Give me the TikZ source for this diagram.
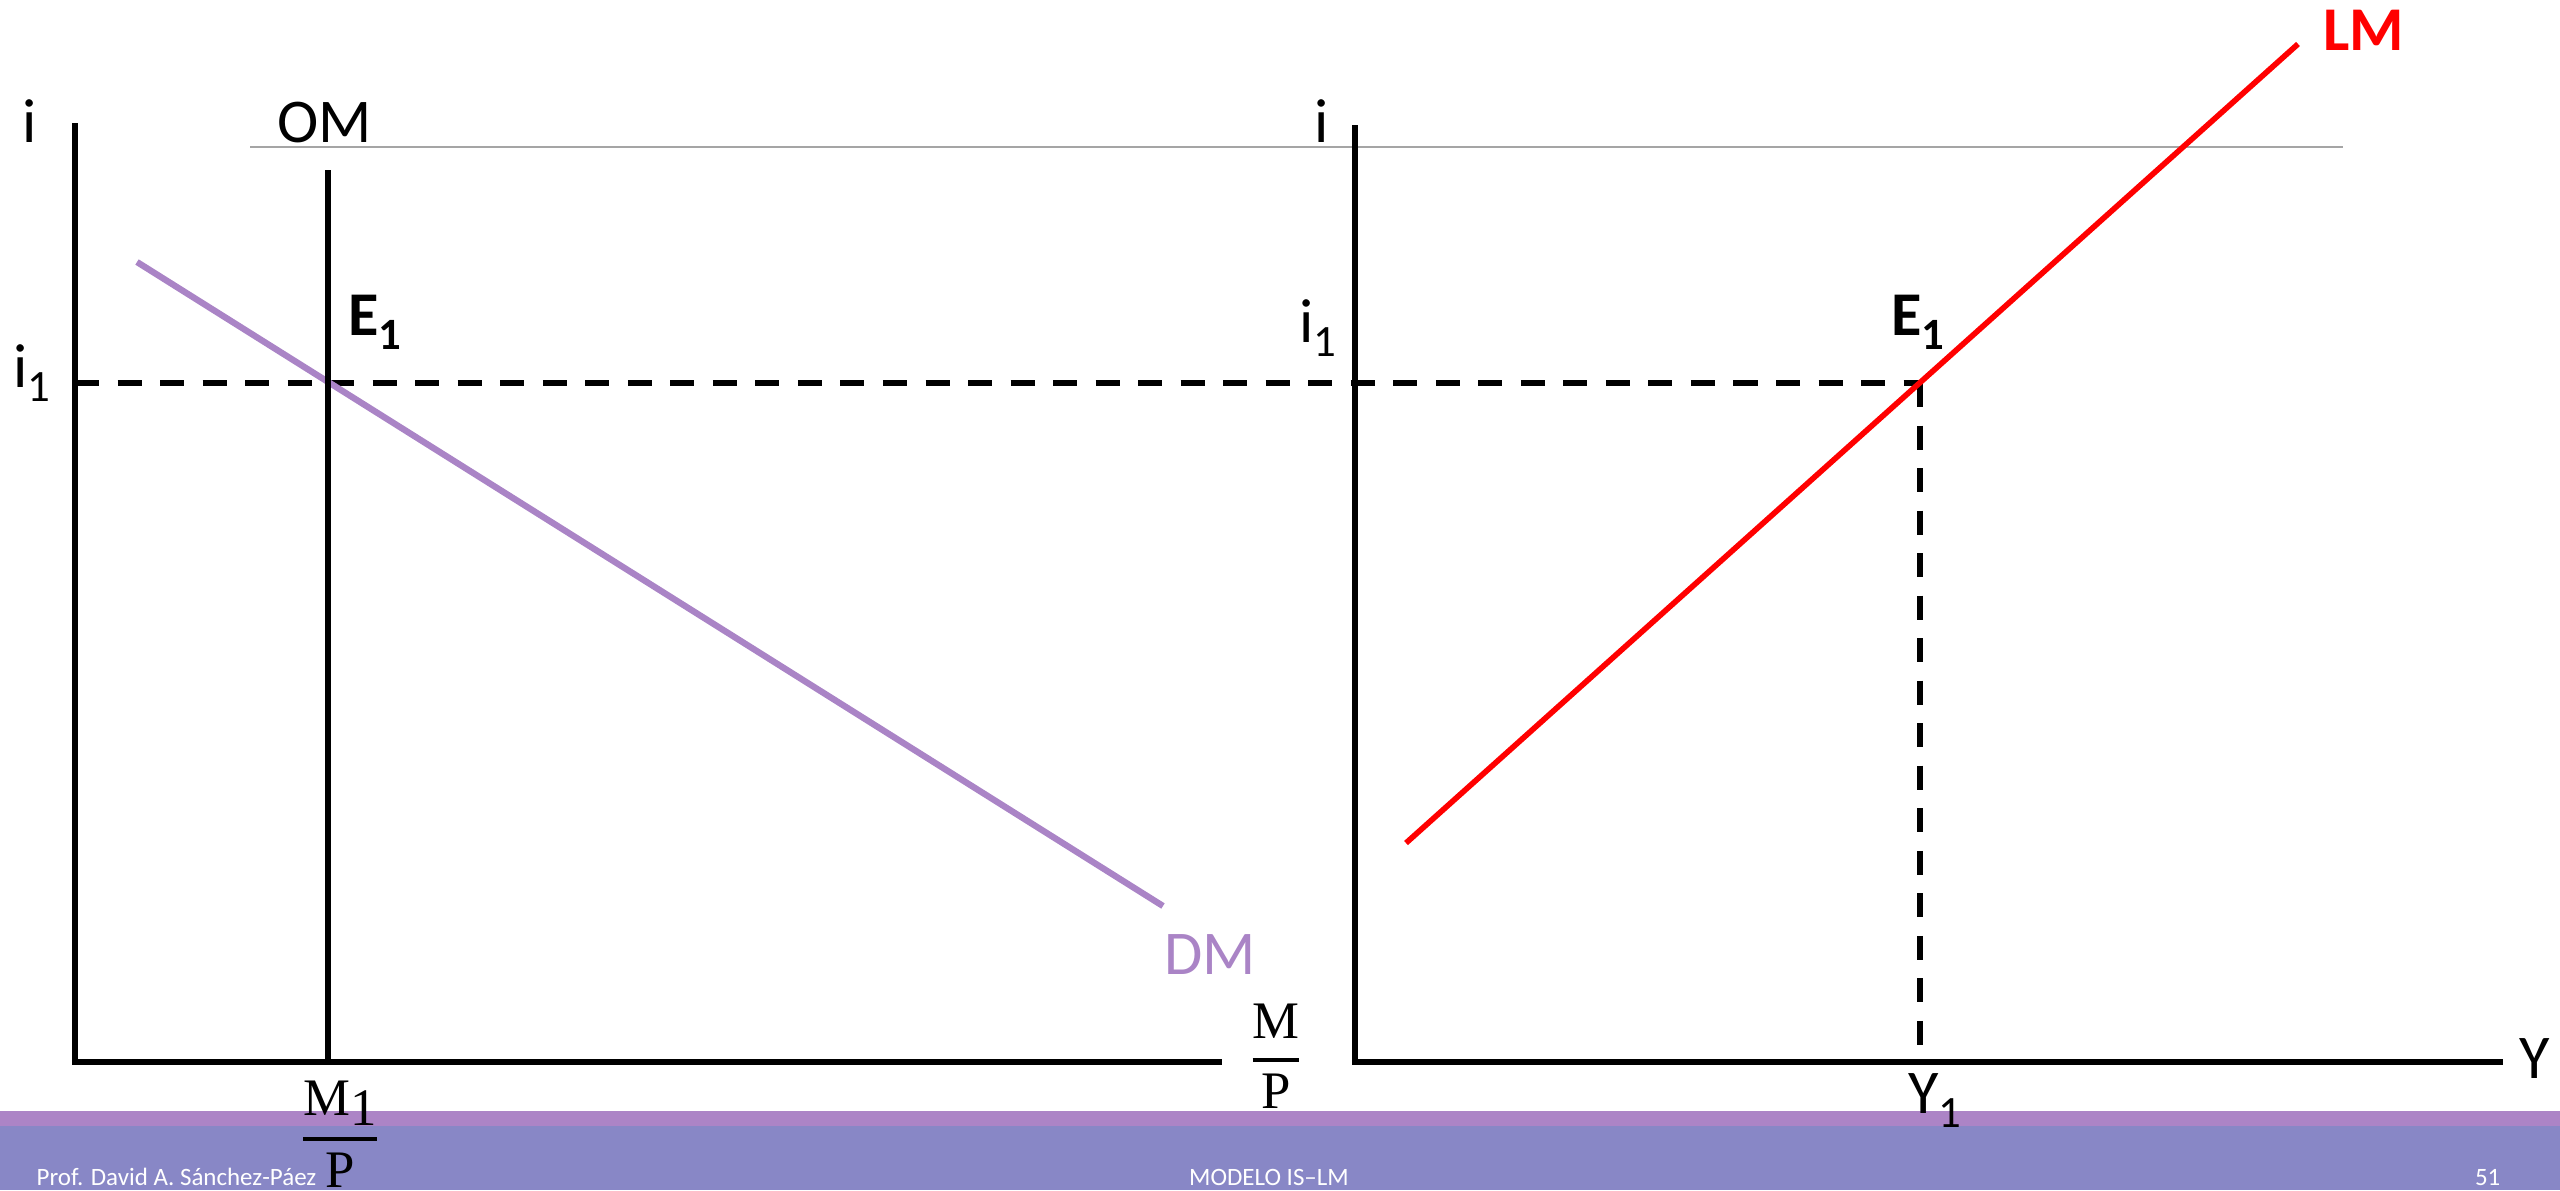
\documentclass[tikz,border=0pt]{standalone}
\usepackage{amsmath}
\usepackage{fontspec}
\setmainfont{Carlito}
\newfontfamily\fracfont{Liberation Serif}
\usetikzlibrary{positioning}
\definecolor{dmpurple}{RGB}{170,132,198}
\definecolor{lmred}{RGB}{255,0,0}
\definecolor{bandtop}{RGB}{172,132,198}
\definecolor{bandbot}{RGB}{136,135,198}
\definecolor{rulegray}{RGB}{165,165,165}
\newcommand{\lowsub}[1]{\raisebox{-0.24em}{\scalebox{0.72}{#1}}}
\newcommand{\fracpart}[1]{\text{\fracfont #1}}

\begin{document}
\begin{tikzpicture}[x=0.01cm, y=-0.01cm]
    \tikzstyle{axis} = [line width=1.7pt, black]
    \tikzstyle{guide} = [line width=1.8pt, black, dash pattern=on 0.24cm off 0.185cm]
    \tikzstyle{lbl} = [inner sep=0pt, anchor=base, font=\fontsize{17.7}{21}\selectfont]
    \tikzstyle{frac} = [inner sep=0pt, anchor=base, font=\fontsize{15}{18}\selectfont]
    \tikzstyle{foot} = [inner sep=0pt, anchor=base, text=white, font=\fontsize{7.1}{8}\selectfont]
    \useasboundingbox (0,0) rectangle (2560,1190);

    % footer bands
    \fill [bandtop] (0,1111) rectangle (2560,1126);
    \fill [bandbot] (0,1126) rectangle (2560,1190);
    \node [foot, anchor=base west] (author) at (36,1185) {Prof. David A. Sánchez-Páez};
    \node [foot] (title) at (1269,1185) {MODELO IS–LM};
    \node [foot, anchor=base east] (pagenum) at (2501,1185) {51};

    % points
    \coordinate (topL) at (75,123);
    \coordinate (oL) at (75,1062);
    \coordinate (endL) at (1222,1062);
    \coordinate (omTop) at (328,170);
    \coordinate (omBot) at (328,1062);
    \coordinate (e1) at (328,383);
    \coordinate (i1a) at (75,383);
    \coordinate (dmA) at (137,262);
    \coordinate (dmB) at (1163,906);
    \coordinate (topR) at (1355,125);
    \coordinate (oR) at (1355,1062);
    \coordinate (endR) at (2503,1062);
    \coordinate (e2) at (1920,383);
    \coordinate (y1foot) at (1920,1062);
    \coordinate (lmA) at (1406,843);
    \coordinate (lmB) at (2298,44);
    \coordinate (ruleA) at (250,147);
    \coordinate (ruleB) at (2343,147);

    \draw [rulegray, line width=0.6pt] (ruleA) -- (ruleB);
    \draw [guide] (i1a) -- (e2);
    \draw [guide] (e2) -- (y1foot);
    \draw [dmpurple, line width=1.8pt] (dmA) -- (dmB);
    \draw [axis] (topL) -- (oL) -- (endL);
    \draw [axis] (omTop) -- (omBot);
    \draw [axis] (topR) -- (oR) -- (endR);
    \draw [lmred, line width=1.6pt] (lmA) -- (lmB);

    % left panel labels
    \node [lbl] (iL) at (30,142) {i};
    \node [lbl] (om) at (325,142) {OM};
    \node [lbl] (i1L) at (32,387) {i\lowsub{1}};
    \node [lbl] (e1L) at (375,335) {\textbf{E\lowsub{1}}};
    \node [lbl, text=dmpurple] (dm) at (1210,974) {DM};
    \node [frac] (mfracL) at (340,1152) {$\genfrac{}{}{1.1pt}{0}{\fracpart{M\raisebox{-0.2em}{1}}}{\fracpart{P}}$};
    \node [frac] (mfracR) at (1276,1073) {$\genfrac{}{}{1.1pt}{0}{\fracpart{M}}{\fracpart{P}}$};

    % right panel labels
    \node [lbl] (iR) at (1322,142) {i};
    \node [lbl] (i1R) at (1318,342) {i\lowsub{1}};
    \node [lbl] (e1R) at (1918,335) {\textbf{E\lowsub{1}}};
    \node [lbl, text=lmred] (lm) at (2364,50) {\textbf{LM}};
    \node [lbl] (yax) at (2535,1078) {Y};
    \node [lbl] (y1) at (1935,1113) {Y\lowsub{1}};
\end{tikzpicture}
\end{document}
